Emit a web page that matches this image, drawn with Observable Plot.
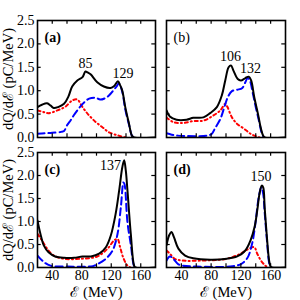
<!DOCTYPE html>
<html><head><meta charset="utf-8">
<script src="https://cdn.jsdelivr.net/npm/d3@7"></script>
<script src="https://cdn.jsdelivr.net/npm/@observablehq/plot@0.6"></script>
<style>
body{margin:0;background:#fff}
#chart{position:relative;width:300px;height:300px}
#chart svg{position:absolute;left:0;top:0}
</style>
</head><body><div id="chart"></div>
<script>
// Tick values
const E_LABEL_TICKS = [40, 80, 120, 160];
const E_MINOR_TICKS = [40, 60, 80, 100, 120, 140, 160];
const Q_TICKS = [0, 0.5, 1, 1.5, 2, 2.5];
const Q_MINOR_TICKS = [0.5, 1, 1.5, 2];
const Y_LABEL = "dQ/dℰ (pC/MeV)";
const X_LABEL = "ℰ (MeV)";

// Panel (a): [E (MeV), dQ/dE]
const aTotal = [[20,0.65],[26,0.70],[33,0.73],[38,0.68],[42,0.63],[48,0.65],[56,0.72],[62,0.88],[67,1.09],[74,1.22],[81,1.29],[85,1.41],[88,1.39],[92,1.35],[101,1.18],[110,1.09],[119,1.06],[124,1.10],[129,1.2],[132,1.12],[135,1.0],[139,0.65],[144,0.3],[148,0.04],[151,0],[180,0]];
const aBlue = [[20,0.08],[30,0.09],[40,0.1],[52,0.12],[56,0.14],[60,0.26],[65,0.37],[69,0.47],[78,0.66],[84,0.76],[90,0.83],[99,0.85],[105,0.81],[114,0.86],[121,0.97],[128,1.11],[130,1.16],[133,1.08],[136,0.9],[139,0.6],[144,0.28],[148,0.04],[151,0]];
const aRed = [[20,0.58],[27,0.55],[35,0.52],[47,0.58],[58,0.66],[67,0.79],[74,0.81],[81,0.65],[90,0.47],[99,0.33],[108,0.22],[117,0.11],[130,0.04],[140,0]];
const aPeakText = ["85", "129"];
const aPeakE = [85, 136];
const aPeakQ = [1.58, 1.37];

// Panel (b)
const bTotal = [[20,0.58],[24.5,0.45],[33.5,0.38],[47,0.38],[56,0.42],[69.6,0.43],[78.6,0.52],[87.7,0.65],[94.4,0.9],[99,1.22],[103.5,1.5],[106.7,1.54],[110,1.43],[115.8,1.25],[120,1.22],[126,1.27],[130.6,1.3],[133.8,1.22],[138,0.86],[142.9,0.51],[147,0.19],[150,0.04],[152,0],[180,0]];
const bBlue = [[20,0.09],[27,0.06],[35,0.04],[75,0.04],[81,0.08],[85,0.19],[92.5,0.4],[97.8,0.65],[102.4,0.86],[108,0.99],[115,1.02],[122,1.06],[126,1.18],[129,1.27],[132,1.22],[136,0.95],[140,0.65],[144,0.38],[148,0.1],[151,0]];
const bRed = [[20,0.43],[29,0.33],[42,0.31],[56,0.35],[69.6,0.36],[83,0.47],[92.5,0.58],[99,0.72],[102,0.65],[108,0.43],[115,0.29],[124,0.19],[133,0.08],[138,0.04],[145,0]];
const bPeakText = ["106", "132"];
const bPeakE = [106, 133];
const bPeakQ = [1.72, 1.48];

// Panel (c)
const cTotal = [[20,1.02],[24,0.73],[28.5,0.48],[35,0.33],[44,0.24],[56,0.21],[69.6,0.21],[81,0.24],[92.5,0.24],[103.6,0.30],[112.7,0.44],[119.5,0.7],[126,1.17],[130.7,1.67],[135,2.18],[137.5,2.33],[139.7,2.11],[142,1.67],[146.5,0.73],[151,0.04],[153,0],[180,0]];
const cBlue = [[20,0.26],[28.5,0.12],[37.7,0.04],[60,0.02],[95,0.03],[101,0.07],[112.7,0.19],[121.8,0.37],[128.5,0.73],[133,1.31],[136.6,1.85],[138,1.81],[142,0.98],[146.5,0.5],[151,0.03],[153,0]];
const cRed = [[20,0.73],[26,0.59],[33,0.41],[42,0.26],[56,0.19],[78.6,0.19],[101,0.24],[115,0.41],[124,0.59],[128.5,0.62],[132,0.44],[136.6,0.2],[142,0.04],[146,0]];
const cPeakText = ["137"];
const cPeakE = [119];
const cPeakQ = [2.22];

// Panel (d)
const dTotal = [[20,0.48],[23.6,0.70],[26.8,0.77],[30,0.66],[36,0.41],[45,0.26],[56,0.2],[79,0.17],[101,0.19],[115,0.24],[126,0.37],[133,0.59],[138.4,0.88],[142,1.24],[145,1.6],[148,1.78],[150,1.74],[152,1.3],[155,0.66],[158,0.15],[160,0.02],[162,0],[180,0]];
const dBlue = [[20,0.15],[24.5,0.24],[29,0.19],[36,0.07],[42,0.04],[60,0.02],[105,0.02],[119.5,0.07],[128.5,0.2],[135,0.51],[139.7,0.98],[144,1.53],[147.5,1.74],[150,1.6],[152,1.2],[155,0.6],[158,0.1],[160,0]];
const dRed = [[20,0.37],[24.5,0.30],[31,0.19],[42,0.15],[65,0.15],[101,0.19],[119.5,0.3],[131,0.41],[138,0.44],[142,0.3],[147,0.15],[153,0.04],[157,0]];
const dPeakText = ["150"];
const dPeakE = [147];
const dPeakQ = [1.98];

const panels = [
  {tag:"(a)", bold:true,  total:aTotal, blue:aBlue, red:aRed, pt:aPeakText, pe:aPeakE, pq:aPeakQ, left:true,  bottom:false, m:[20,145,163,37]},
  {tag:"(b)", bold:false, total:bTotal, blue:bBlue, red:bRed, pt:bPeakText, pe:bPeakE, pq:bPeakQ, left:false, bottom:false, m:[20,15,163,166]},
  {tag:"(c)", bold:true,  total:cTotal, blue:cBlue, red:cRed, pt:cPeakText, pe:cPeakE, pq:cPeakQ, left:true,  bottom:true,  m:[152,145,33,37]},
  {tag:"(d)", bold:true,  total:dTotal, blue:dBlue, red:dRed, pt:dPeakText, pe:dPeakE, pq:dPeakQ, left:false, bottom:true,  m:[152,15,33,166]}
];

const E0 = 20, E1 = 180, Q0 = 0, Q1 = 2.5;
const tickE = 5, tickQ = 0.08;
const FONT = "Liberation Serif";

const chart = document.getElementById("chart");
for (const p of panels) {
  const marks = [
    Plot.line(p.red, {x: d => d[0], y: d => d[1], stroke: "#ff0000", strokeWidth: 2, strokeDasharray: "3,3,1,3", curve: "catmull-rom", clip: true}),
    Plot.line(p.blue, {x: d => d[0], y: d => d[1], stroke: "#0000ff", strokeWidth: 2, strokeDasharray: "7,4", curve: "catmull-rom", clip: true}),
    Plot.line(p.total, {x: d => d[0], y: d => d[1], stroke: "#000", strokeWidth: 2, curve: "catmull-rom", clip: true}),
    Plot.ruleX(E_MINOR_TICKS, {x: d => d, y1: Q0, y2: Q0 + tickQ, stroke: "#000", strokeWidth: 1.2}),
    Plot.ruleX(E_MINOR_TICKS, {x: d => d, y1: Q1 - tickQ, y2: Q1, stroke: "#000", strokeWidth: 1.2}),
    Plot.ruleY(Q_MINOR_TICKS, {y: d => d, x1: E0, x2: E0 + tickE, stroke: "#000", strokeWidth: 1.2}),
    Plot.ruleY(Q_MINOR_TICKS, {y: d => d, x1: E1 - tickE, x2: E1, stroke: "#000", strokeWidth: 1.2}),
    Plot.frame({stroke: "#000", strokeWidth: 1.6}),
    Plot.text(p.pt, {x: (d, i) => p.pe[i], y: (d, i) => p.pq[i], text: d => d, fontSize: 14, fontFamily: FONT, fill: "#000"}),
    Plot.text([p.tag], {frameAnchor: "top-left", textAnchor: "start", lineAnchor: "middle", dx: 7, dy: 17, fontSize: 14, fontFamily: FONT, fontWeight: p.bold ? "bold" : "normal", fill: "#000"})
  ];
  if (p.left) {
    marks.push(Plot.axisY({ticks: Q_TICKS, tickSize: 0, tickPadding: 3, tickFormat: d => d.toFixed(1), label: null, fontSize: 14, fontFamily: FONT}));
    marks.push(Plot.text([Y_LABEL], {frameAnchor: "left", dx: -29, rotate: -90, textAnchor: "middle", lineAnchor: "middle", fontSize: 14.5, fontFamily: FONT, fill: "#000"}));
  }
  if (p.bottom) {
    marks.push(Plot.axisX({ticks: E_LABEL_TICKS, tickSize: 0, tickPadding: 3, label: null, fontSize: 14, fontFamily: FONT}));
    marks.push(Plot.text([X_LABEL], {frameAnchor: "bottom", dy: 25, textAnchor: "middle", lineAnchor: "middle", fontSize: 14.5, fontFamily: FONT, fill: "#000"}));
  }
  const svg = Plot.plot({
    width: 300, height: 300,
    marginTop: p.m[0], marginRight: p.m[1], marginBottom: p.m[2], marginLeft: p.m[3],
    x: {domain: [E0, E1], axis: p.bottom ? undefined : null},
    y: {domain: [Q0, Q1], axis: p.left ? undefined : null},
    style: {background: "transparent", fontFamily: FONT, fontSize: "14px", color: "#000", overflow: "visible"},
    marks
  });
  chart.appendChild(svg);
}
</script></body></html>
